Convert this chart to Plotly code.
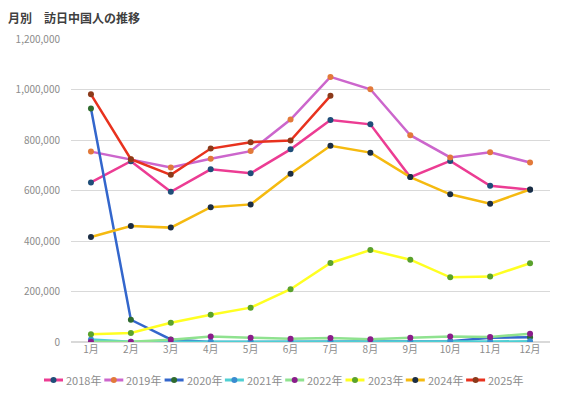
import plotly.graph_objects as go

months = ["1月", "2月", "3月", "4月", "5月", "6月", "7月", "8月", "9月", "10月", "11月", "12月"]

y2018 = [632000, 716000, 595000, 684000, 668000, 763000, 879000, 862000, 653000, 717000, 619000, 603000]
y2019 = [754000, 724000, 691000, 726000, 756000, 881000, 1050000, 1001000, 819000, 731000, 751000, 711000]
y2020 = [925000, 88000, 10000, 300, 200, 300, 400, 600, 1000, 3000, 17000, 19000]
y2021 = [10000, 1000, 1200, 900, 900, 700, 1500, 900, 1200, 1600, 2100, 2900]
y2022 = [1000, 1000, 9000, 22000, 17000, 13000, 16000, 11000, 17000, 22000, 20000, 33000]
y2023 = [31000, 36000, 76000, 108000, 136000, 209000, 313000, 364000, 326000, 256000, 259000, 312000]
y2024 = [416000, 459000, 453000, 534000, 545000, 666000, 777000, 750000, 653000, 585000, 548000, 604000]
y2025 = [981000, 724000, 662000, 766000, 791000, 798000, 975000]

series = [
    ("2018年", y2018, "#EC3C93", "#1F4E79"),
    ("2019年", y2019, "#CC66CC", "#E2793A"),
    ("2020年", y2020, "#3366CC", "#2E6B2E"),
    ("2021年", y2021, "#4FCFD3", "#3A8CD0"),
    ("2022年", y2022, "#8FE28F", "#8B1C8B"),
    ("2023年", y2023, "#FFFF22", "#5AA22C"),
    ("2024年", y2024, "#F5BA10", "#1B2D44"),
    ("2025年", y2025, "#E8321E", "#8B3A1A"),
]

W, H = 562, 396
ML, MR, MT, MB = 71, 12, 39, 54
PW, PH = W - ML - MR, H - MT - MB
font = "Noto Sans CJK JP"

fig = go.Figure()
for name, vals, lc, mc in series:
    fig.add_trace(go.Scatter(
        x=months[:len(vals)], y=vals, name=name, mode="lines+markers",
        line=dict(color=lc, width=2.5),
        marker=dict(color=mc, size=6),
        showlegend=False,
    ))

# custom horizontal legend (layout only)
shapes, annots = [], []
leg_y = (MT + PH - 380) / PH
for i, (name, vals, lc, mc) in enumerate(series):
    x0 = (44 + 60.3 * i - ML) / PW
    shapes.append(dict(type="line", xref="paper", yref="paper", xsizemode="pixel", ysizemode="pixel",
                       xanchor=x0, yanchor=leg_y, x0=0, x1=19, y0=0, y1=0,
                       line=dict(color=lc, width=3)))
    shapes.append(dict(type="circle", xref="paper", yref="paper", xsizemode="pixel", ysizemode="pixel",
                       xanchor=x0, yanchor=leg_y, x0=6.5, x1=12.5, y0=-3, y1=3,
                       fillcolor=mc, line=dict(width=0)))
    annots.append(dict(text=name, xref="paper", yref="paper", x=x0 + 20 / PW, y=leg_y,
                       xanchor="left", yanchor="middle", showarrow=False,
                       font=dict(family=font, size=11, color="#8C8C8C")))

annots.append(dict(text="<b>月別　訪日中国人の推移</b>", xref="paper", yref="paper",
                   x=(6 - ML) / PW, y=(MT + PH - 17) / PH, xanchor="left", yanchor="middle",
                   showarrow=False, font=dict(family=font, size=12, color="#404040")))

fig.update_layout(
    width=W, height=H,
    margin=dict(l=ML, r=MR, t=MT, b=MB),
    paper_bgcolor="white", plot_bgcolor="white",
    font=dict(family=font, color="#8C8C8C", size=10),
    showlegend=False,
    shapes=shapes, annotations=annots,
    hovermode=False,
)
fig.update_xaxes(type="category", categoryorder="array", categoryarray=months,
                 range=[-0.5, 11.5], showgrid=False, showline=False, zeroline=False,
                 ticks="", tickfont=dict(size=10, color="#8C8C8C"))
fig.update_yaxes(range=[0, 1200000], dtick=200000, tickformat=",d", showgrid=True,
                 gridcolor="#D9D9D9", gridwidth=1, zeroline=True, zerolinecolor="#D9D9D9",
                 showline=False, ticks="", ticklabelstandoff=10,
                 tickfont=dict(size=10, color="#8C8C8C"))

fig.write_html("out.html", config={"displayModeBar": False},
               post_script="document.body.style.margin='0';document.body.style.overflow='hidden';")
